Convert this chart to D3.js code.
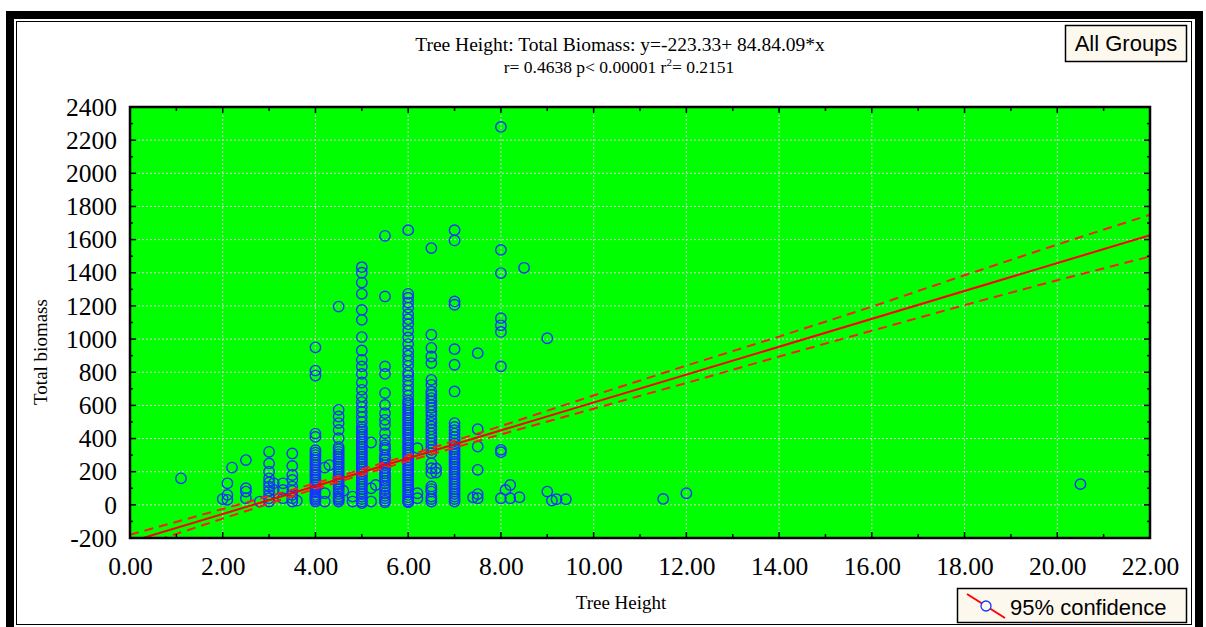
<!DOCTYPE html>
<html>
<head>
<meta charset="utf-8">
<script src="https://cdn.jsdelivr.net/npm/d3@7/dist/d3.min.js"></script>
<style>
    body { margin: 0; background: #fff; }
    svg { display: block; }
</style>
</head>
<body>
<svg id="drawing_region"></svg>
<script>
// tree height classes and the biomass values observed at each
const heights = [1.1, 2.0, 2.1, 2.2, 2.5, 2.8, 3.0, 3.1, 3.3, 3.5, 3.6, 4.0, 4.2, 4.3, 4.5, 4.6, 4.8,
    5.0, 5.2, 5.3, 5.5, 6.0, 6.2, 6.5, 6.6, 7.0, 7.4, 7.5, 8.0, 8.1, 8.2, 8.4, 8.5, 9.0, 9.1, 9.2, 9.4,
    11.5, 12.0, 20.5];
const biomass = [
    [160],
    [35],
    [130, 60, 30],
    [225],
    [270, 100, 80, 40],
    [20],
    [320, 250, 200, 160, 110, 60, 40, 20, 85, 135],
    [130, 90],
    [130, 90, 40],
    [310, 235, 180, 150, 110, 60, 20, 40, 85],
    [25],
    [950, 810, 780, 430, 410, 330, 300, 270, 240, 210, 180, 150, 120, 90, 60, 40, 20,
        315, 285, 255, 225, 195, 165, 135, 105, 75, 50, 30],
    [225, 70, 20],
    [240],
    [1196, 573, 533, 493, 452, 402, 350, 320, 290, 260, 230, 200, 170, 140, 110, 80, 50, 30,
        335, 305, 275, 245, 215, 185, 155, 125, 95, 65, 40, 20],
    [85],
    [50, 20],
    [1434, 1400, 1341, 1273, 1176, 1116, 1012, 931, 875, 835, 790, 738, 694, 653, 620, 590, 560, 530,
        500, 470, 440, 410, 380, 350, 320, 290, 260, 230, 200, 170, 140, 110, 80, 50, 20,
        455, 425, 395, 365, 335, 305, 275, 245, 215, 185, 155, 125, 95, 65, 35, 10],
    [376, 100, 20],
    [120],
    [1623, 1257, 835, 790, 674, 603, 553, 513, 483, 432, 392, 360, 332, 300, 272, 240, 221, 190, 161,
        130, 111, 70, 40, 15, 345, 285, 255, 205, 175, 145, 95, 55, 25],
    [1657, 1273, 1250, 1220, 1190, 1150, 1120, 1090, 1050, 1010, 970, 930, 900, 870, 840, 800, 780,
        750, 720, 690, 660, 630, 600, 570, 540, 510, 480, 450, 420, 390, 360, 330, 300, 270, 240, 210,
        180, 150, 120, 90, 60, 30, 15,
        615, 585, 555, 525, 495, 465, 435, 405, 375, 345, 315, 285, 255, 225, 195, 165, 135, 105, 75, 45, 20],
    [342, 70, 40],
    [1549, 1026, 947, 895, 855, 754, 724, 684, 644, 603, 563, 513, 473, 432, 392, 352, 312, 251, 221,
        191, 111, 80, 50, 20, 665, 625, 585, 540, 495, 455, 412, 372, 332, 95, 35],
    [220, 195],
    [1657, 1595, 1227, 1207, 939, 845, 684, 493, 470, 450, 430, 410, 390, 370, 350, 320, 290, 260, 230,
        200, 170, 140, 110, 80, 50, 20, 335, 305, 275, 245, 215, 185, 155, 125, 95, 65, 35],
    [45],
    [915, 456, 352, 211, 65, 40],
    [2280, 1538, 1398, 1126, 1083, 1043, 835, 332, 318, 40],
    [90],
    [120, 40],
    [46],
    [1430],
    [1005, 80],
    [26],
    [34],
    [34],
    [36],
    [70],
    [125]
];

// fitted line and 95% confidence band
const fitIntercept = -223.33;
const fitSlope = 84.09;
const bandX = [0, 2, 4, 6, 8, 10, 12, 14, 16, 18, 20, 22];
const bandUpper = [-180, -25, 130, 298, 475, 660, 840, 1015, 1195, 1385, 1570, 1750];
const bandLower = [-268, -83, 97, 265, 425, 580, 735, 895, 1050, 1205, 1355, 1498];

// tick labels
const xTickValues = [0, 2, 4, 6, 8, 10, 12, 14, 16, 18, 20, 22];
const yTickValues = [-200, 0, 200, 400, 600, 800, 1000, 1200, 1400, 1600, 1800, 2000, 2200, 2400];

const titleLine1 = 'Tree Height: Total Biomass: y=-223.33+ 84.84.09*x';
const xLabel = 'Tree Height';
const yLabel = 'Total biomass';

class RegressionPlot {

    constructor( config ) {
        this.config = {
            parent: config.parent,
            width: config.width || 256,
            height: config.height || 256,
            margin: config.margin || {top:10, right:10, bottom:10, left:10}
        }
        this.data = [];
        heights.forEach( (h, i) => {
            biomass[i].forEach( b => this.data.push({ height: h, biomass: b }) );
        });
        this.init();
    }

    init() {
        let self = this;

        self.svg = d3.select( self.config.parent )
            .attr('width', self.config.width)
            .attr('height', self.config.height);

        // window frame
        self.svg.append('rect')
            .attr('x', 6).attr('y', 11).attr('width', 1197).attr('height', 630)
            .attr('fill', '#000');
        self.svg.append('rect')
            .attr('x', 14).attr('y', 19).attr('width', 1181).attr('height', 622)
            .attr('fill', '#fff');
        self.svg.append('rect')
            .attr('x', 16.5).attr('y', 21.5).attr('width', 1175).attr('height', 603)
            .attr('fill', 'none').attr('stroke', '#000').attr('stroke-width', 1);

        self.inner_width = self.config.width - self.config.margin.left - self.config.margin.right;
        self.inner_height = self.config.height - self.config.margin.top - self.config.margin.bottom;

        self.chart = self.svg.append('g')
            .attr('transform', `translate(${self.config.margin.left}, ${self.config.margin.top})`);

        self.xscale = d3.scaleLinear()
            .domain( [0, 22] )
            .range( [0, self.inner_width] );

        self.yscale = d3.scaleLinear()
            .domain( [-200, 2400] )
            .range( [self.inner_height, 0] );

        self.chart.append('rect')
            .attr('width', self.inner_width)
            .attr('height', self.inner_height)
            .attr('fill', '#00ff00');

        self.chart.append('clipPath')
            .attr('id', 'plot-clip')
            .append('rect')
            .attr('width', self.inner_width)
            .attr('height', self.inner_height);
    }

    render() {
        let self = this;

        // grid
        self.chart.append('g')
            .selectAll('line')
            .data( xTickValues.slice(1, -1) )
            .join('line')
            .attr('x1', d => self.xscale(d)).attr('x2', d => self.xscale(d))
            .attr('y1', 0).attr('y2', self.inner_height)
            .attr('stroke', '#d4d4d4').attr('stroke-dasharray', '2,2');

        self.chart.append('g')
            .selectAll('line')
            .data( yTickValues.slice(1, -1) )
            .join('line')
            .attr('x1', 0).attr('x2', self.inner_width)
            .attr('y1', d => self.yscale(d)).attr('y2', d => self.yscale(d))
            .attr('stroke', '#d4d4d4').attr('stroke-dasharray', '2,2');

        // points
        self.chart.append('g')
            .selectAll('circle')
            .data( self.data )
            .join('circle')
            .attr('cx', d => self.xscale( d.height ))
            .attr('cy', d => self.yscale( d.biomass ))
            .attr('r', 5.2)
            .attr('fill', 'none')
            .attr('stroke', '#1634ff')
            .attr('stroke-width', 1.4);

        // regression line and confidence band
        const lines = self.chart.append('g').attr('clip-path', 'url(#plot-clip)');
        const fitLine = d3.line()
            .x( d => self.xscale(d) )
            .y( d => self.yscale( fitIntercept + fitSlope * d ) );
        lines.append('path')
            .attr('d', fitLine( [0, 22] ))
            .attr('fill', 'none').attr('stroke', '#ff0000').attr('stroke-width', 2);

        const bandLine = d3.line()
            .x( (d, i) => self.xscale( bandX[i] ) )
            .y( d => self.yscale(d) );
        [bandUpper, bandLower].forEach( band => {
            lines.append('path')
                .attr('d', bandLine( band ))
                .attr('fill', 'none').attr('stroke', '#ff1a1a').attr('stroke-width', 2)
                .attr('stroke-dasharray', '9,6');
        });

        // border ticks
        const minorY = d3.range(-200, 2401, 100);
        const minorX = d3.range(0, 23, 1);
        const tickLen = d => (d % 200 === 0 ? 6 : 3);
        const border = self.chart.append('g').attr('stroke', '#000').attr('stroke-width', 1.5);
        border.selectAll('.lt').data(minorY).join('line')
            .attr('x1', 0).attr('x2', d => tickLen(d))
            .attr('y1', d => self.yscale(d)).attr('y2', d => self.yscale(d));
        border.selectAll('.rt').data(minorY).join('line')
            .attr('x1', self.inner_width).attr('x2', d => self.inner_width - tickLen(d))
            .attr('y1', d => self.yscale(d)).attr('y2', d => self.yscale(d));
        border.selectAll('.tt').data(minorX).join('line')
            .attr('x1', d => self.xscale(d)).attr('x2', d => self.xscale(d))
            .attr('y1', 0).attr('y2', d => (d % 2 === 0 ? 6 : 4));
        border.selectAll('.bt').data(minorX).join('line')
            .attr('x1', d => self.xscale(d)).attr('x2', d => self.xscale(d))
            .attr('y1', self.inner_height).attr('y2', d => self.inner_height - (d % 2 === 0 ? 6 : 4));

        self.chart.append('rect')
            .attr('width', self.inner_width)
            .attr('height', self.inner_height)
            .attr('fill', 'none')
            .attr('stroke', '#000')
            .attr('stroke-width', 2.5);

        // axes (labels only, ticks drawn above)
        self.xaxis = d3.axisBottom( self.xscale )
            .tickValues( xTickValues )
            .tickSize(0)
            .tickPadding(19)
            .tickFormat( d => d.toFixed(2) );
        self.yaxis = d3.axisLeft( self.yscale )
            .tickValues( yTickValues )
            .tickSize(0)
            .tickPadding(13)
            .tickFormat( d => String(d) );

        const xg = self.chart.append('g')
            .attr('transform', `translate(0, ${self.inner_height})`)
            .call( self.xaxis );
        const yg = self.chart.append('g')
            .call( self.yaxis );
        [xg, yg].forEach( g => {
            g.select('.domain').remove();
            g.selectAll('text')
                .attr('font-family', '"Liberation Serif", "Times New Roman", serif')
                .attr('font-size', 25.5)
                .attr('fill', '#000');
        });

        // titles
        const serif = '"Liberation Serif", "Times New Roman", serif';
        self.svg.append('text')
            .attr('x', 620).attr('y', 51)
            .attr('text-anchor', 'middle')
            .attr('font-family', serif).attr('font-size', 19.5)
            .text( titleLine1 );
        const t2 = self.svg.append('text')
            .attr('x', 619).attr('y', 73)
            .attr('text-anchor', 'middle')
            .attr('font-family', serif).attr('font-size', 17.5);
        t2.append('tspan').text('r= 0.4638 p< 0.00001 r');
        t2.append('tspan').attr('font-size', 11).attr('dy', -7).text('2');
        t2.append('tspan').attr('dy', 7).text('= 0.2151');

        self.svg.append('text')
            .attr('x', 621).attr('y', 609)
            .attr('text-anchor', 'middle')
            .attr('font-family', serif).attr('font-size', 19)
            .text( xLabel );
        self.svg.append('text')
            .attr('transform', 'translate(47, 352) rotate(-90)')
            .attr('text-anchor', 'middle')
            .attr('font-family', serif).attr('font-size', 19)
            .text( yLabel );

        // group box
        const sans = '"Liberation Sans", Arial, sans-serif';
        self.svg.append('rect')
            .attr('x', 1065.5).attr('y', 25.5).attr('width', 121).attr('height', 36)
            .attr('fill', '#fdf8ee').attr('stroke', '#000').attr('stroke-width', 1.5);
        self.svg.append('text')
            .attr('x', 1126).attr('y', 51)
            .attr('text-anchor', 'middle')
            .attr('font-family', sans).attr('font-size', 22)
            .text('All Groups');

        // legend
        self.svg.append('rect')
            .attr('x', 957.5).attr('y', 588.5).attr('width', 229).attr('height', 34)
            .attr('fill', '#fdf8ee').attr('stroke', '#000').attr('stroke-width', 1.5);
        self.svg.append('line')
            .attr('x1', 967).attr('y1', 594).attr('x2', 1005).attr('y2', 618)
            .attr('stroke', '#ff0000').attr('stroke-width', 2);
        self.svg.append('circle')
            .attr('cx', 986).attr('cy', 606).attr('r', 5)
            .attr('fill', '#fdf8ee').attr('stroke', '#1634ff').attr('stroke-width', 1.3);
        self.svg.append('text')
            .attr('x', 1010).attr('y', 615)
            .attr('font-family', sans).attr('font-size', 22)
            .text('95% confidence');
    }
}

const plot = new RegressionPlot({
    parent: '#drawing_region',
    width: 1206,
    height: 627,
    margin: {top:107, right:56, bottom:89, left:130}
});
plot.render();
</script>
</body>
</html>
